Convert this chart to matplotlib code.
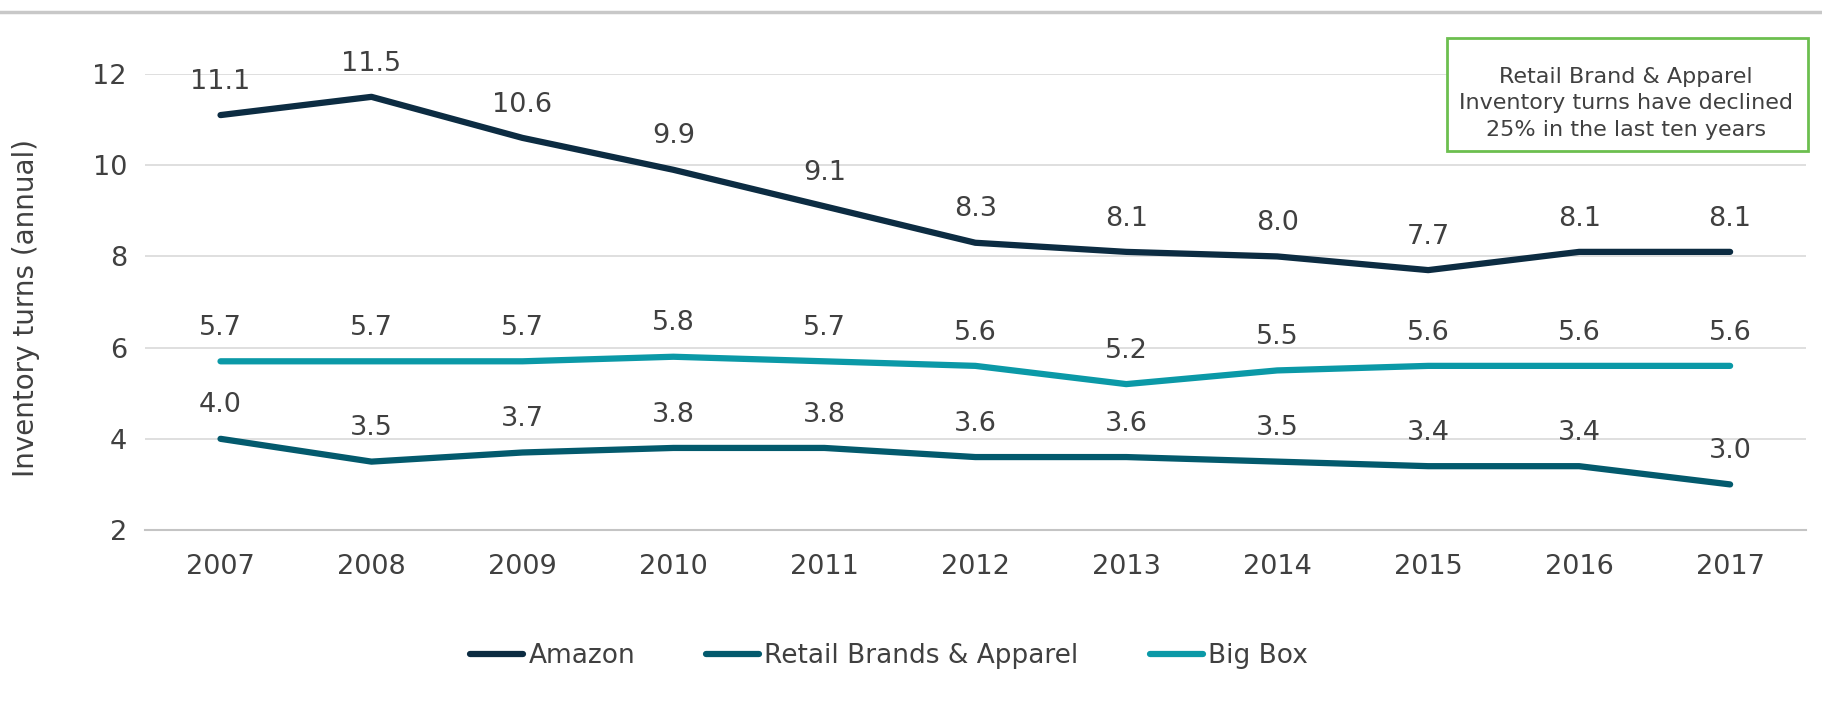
import matplotlib.pyplot as plt
from matplotlib.lines import Line2D
from matplotlib.patches import FancyBboxPatch

years = ["2007", "2008", "2009", "2010", "2011", "2012", "2013", "2014", "2015", "2016", "2017"]
amazon = [11.1, 11.5, 10.6, 9.9, 9.1, 8.3, 8.1, 8.0, 7.7, 8.1, 8.1]
retail = [4.0, 3.5, 3.7, 3.8, 3.8, 3.6, 3.6, 3.5, 3.4, 3.4, 3.0]
bigbox = [5.7, 5.7, 5.7, 5.8, 5.7, 5.6, 5.2, 5.5, 5.6, 5.6, 5.6]

series = [
    ("Amazon", amazon, "#0c2c42"),
    ("Retail Brands & Apparel", retail, "#035a6d"),
    ("Big Box", bigbox, "#0b99a7"),
]

note = "Retail Brand & Apparel\nInventory turns have declined\n25% in the last ten years"

txt = "#404040"
plt.rcParams["font.family"] = "DejaVu Sans"

fig = plt.figure(figsize=(18.22, 7.12), dpi=100)
ax = fig.add_axes([0.0796, 0.2556, 0.9114, 0.6404])

x = list(range(len(years)))
for name, vals, col in series:
    ax.plot(x, vals, color=col, lw=4.5, solid_capstyle="round", solid_joinstyle="round",
            label=name, zorder=3)
    for xi, v in zip(x, vals):
        ax.annotate("%.1f" % v, (xi, v), xytext=(0, 24), textcoords="offset points",
                    ha="center", va="center", fontsize=19.5, color=txt, annotation_clip=False)

ax.set_xlim(-0.5, len(years) - 0.5)
ax.set_ylim(2, 12)
ax.set_yticks([2, 4, 6, 8, 10, 12])
ax.set_xticks(x)
ax.set_xticklabels(years)
ax.tick_params(length=0, labelsize=19.5, labelcolor=txt)
ax.tick_params(axis="x", pad=17)
ax.tick_params(axis="y", pad=13)
ax.grid(axis="y", color="#dcdcdc", lw=1.3, zorder=0)
for s in ["top", "right", "left"]:
    ax.spines[s].set_visible(False)
ax.spines["bottom"].set_color("#c4c4c4")
ax.spines["bottom"].set_linewidth(1.5)
ax.set_ylabel("Inventory turns (annual)", fontsize=20, color=txt)
ax.yaxis.set_label_coords(-0.063, 0.488)

# separator line across the top
fig.add_artist(Line2D([0, 1], [0.983, 0.983], color="#c8c8c8", lw=2.5, transform=fig.transFigure))

# note box
fig.text(0.8925, 0.8547, note, ha="center", va="center", fontsize=16, color=txt,
         linespacing=1.4, zorder=5)
box = FancyBboxPatch((0.7942, 0.788), 0.1981, 0.1587, boxstyle="square,pad=0",
                     transform=fig.transFigure, fc="white", ec="#6cbf4f", lw=2, zorder=4)
fig.add_artist(box)

fig.legend(loc="center", bbox_to_anchor=(0.488, 0.079), ncol=3, frameon=False,
           fontsize=19, handlelength=2.0, handletextpad=0.2, columnspacing=2.7,
           labelcolor=txt)

fig.savefig("out.png", dpi=100, facecolor="white")
